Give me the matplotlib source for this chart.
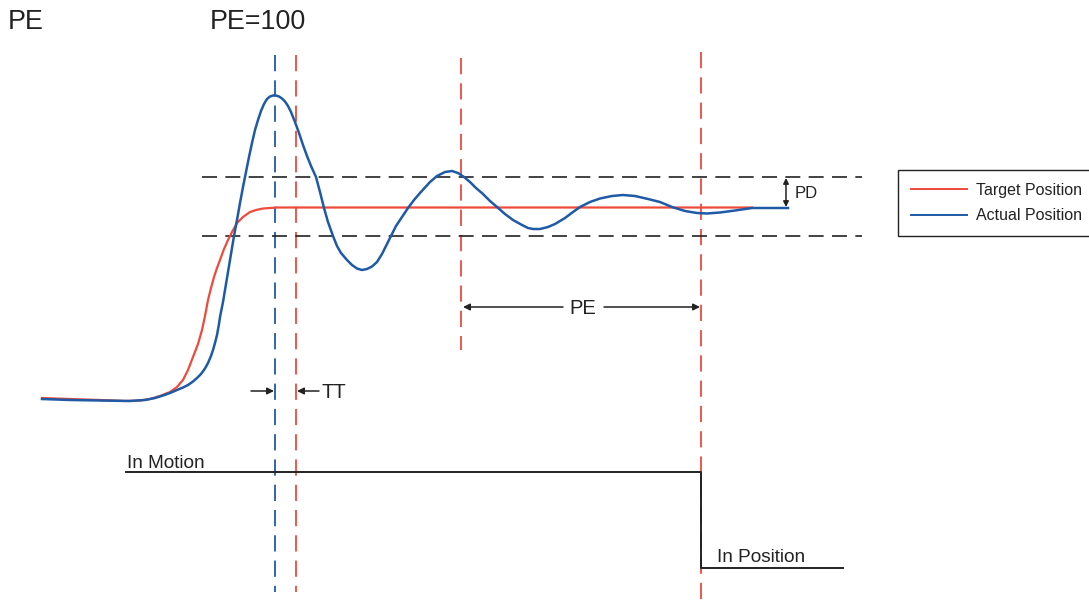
import matplotlib

matplotlib.use("Agg")
import matplotlib.pyplot as plt

plt.rcParams["font.family"] = ["Liberation Sans", "DejaVu Sans"]

# picture is a schematic, so all values are in pixel units of the 1089x605 canvas
target_x = [42, 70, 100, 125, 140, 150, 160, 170, 177, 183, 188, 193, 198, 202, 205, 208,
            211, 214, 217, 220, 224, 228, 232, 237, 243, 250, 256, 263, 270, 277, 752]
target_y = [398, 399, 400, 401, 400.5, 399, 396, 392, 387, 380, 370, 357, 344, 330, 316, 300,
            288, 277, 268, 260, 249, 240, 232, 223, 217, 212, 210, 208.5, 208, 207.5, 207.5]

actual_x = [42, 70, 100, 130, 145, 155, 163, 170, 177, 183, 188, 193, 197, 201, 205, 208,
            211, 213, 215, 217, 219, 220, 223, 225, 228, 231, 234, 237, 240, 243, 246, 249,
            252, 255, 258, 261, 264, 267, 270, 273, 276, 279, 282, 285, 288, 291, 295, 299,
            303, 307, 311, 316, 320, 324, 328, 333, 337, 341, 347, 352, 357, 362, 367, 372,
            377, 382, 386, 391, 396, 402, 408, 414, 420, 430, 437, 445, 452, 458, 464, 470,
            476, 483, 490, 497, 505, 513, 522, 528, 533, 540, 548, 555, 565, 573, 580, 590,
            600, 612, 623, 635, 648, 660, 672, 685, 697, 707, 720, 735, 752, 788]
actual_y = [399, 400, 400.5, 401, 400, 398, 395.5, 393, 390, 387.5, 385, 381.5, 378, 374, 368.5, 363,
            356, 350, 343, 335, 324, 317, 302, 290, 272, 254, 236, 220, 203, 187, 172, 157,
            143, 130, 120, 111, 104, 99, 96.5, 95.5, 95.5, 96.5, 98.5, 101.5, 106, 112, 122, 133,
            145, 156, 166, 177, 192, 208, 222, 236, 246, 253, 260, 265, 268.5, 270, 269, 266.5,
            262, 254, 246, 236, 226, 217, 208, 200, 193, 182, 176, 172, 171, 173, 177, 182,
            188, 194, 201, 207, 214, 220, 225, 228, 229, 229, 227, 224, 218, 212, 207, 202,
            198.5, 196, 195, 196, 199, 202, 207, 211, 213, 213.5, 212.5, 210.5, 208, 208]

band_y = [177, 236]
band_x = [202, 862]

# vertical markers: x, top, bottom, colour
marker_x = [275, 296, 461, 701]
marker_top = [55, 55, 58, 52]
marker_bottom = [592, 592, 350, 605]
marker_color = ["#1f5aa6", "#f04a3a", "#f04a3a", "#f04a3a"]

status_x = [126, 701, 701, 843]
status_y = [472, 472, 568, 568]

RED = "#f04a3a"
BLUE = "#1f5aa6"
INK = "#222222"

fig = plt.figure(figsize=(10.89, 6.05), dpi=100)
ax = fig.add_axes([0, 0, 1, 1])
ax.set_xlim(0, 1089)
ax.set_ylim(605, 0)
ax.axis("off")

for x, top, bottom, color in zip(marker_x, marker_top, marker_bottom, marker_color):
    ax.plot([x, x], [top, bottom], color=color, lw=1.3, linestyle=(0, (9, 5)))

ax.hlines(band_y, band_x[0], band_x[1], colors=INK, lw=1.2, linestyles=(0, (9, 5)))

(target_line,) = ax.plot(target_x, target_y, color=RED, lw=1.6, label="Target Position",
                         solid_joinstyle="round")
(actual_line,) = ax.plot(actual_x, actual_y, color=BLUE, lw=1.8, label="Actual Position",
                         solid_joinstyle="round")

ax.plot(status_x, status_y, color=INK, lw=1.4)

# annotations
ax.text(8, 29, "PE", fontsize=19.4, color=INK, va="baseline")
ax.text(210, 29, "PE=100", fontsize=19.4, color=INK, va="baseline")
ax.text(127, 468, "In Motion", fontsize=13.7, color=INK, va="baseline")
ax.text(717, 562, "In Position", fontsize=13.7, color=INK, va="baseline")

arrow = dict(arrowstyle="-|>", color=INK, lw=1.1, mutation_scale=10, shrinkA=0, shrinkB=0)
ax.annotate("", xy=(274, 391), xytext=(251, 391), arrowprops=arrow)
ax.annotate("", xy=(297, 391), xytext=(319, 391), arrowprops=arrow)
ax.text(322, 392, "TT", fontsize=14.5, color=INK, va="center")

ax.annotate("", xy=(463, 307), xytext=(563, 307), arrowprops=arrow)
ax.annotate("", xy=(700, 307), xytext=(604, 307), arrowprops=arrow)
ax.text(583, 308, "PE", fontsize=14.5, color=INK, va="center", ha="center")

ax.annotate("", xy=(786, 178), xytext=(786, 207),
            arrowprops=dict(arrowstyle="<|-|>", color=INK, lw=1.1, mutation_scale=8,
                            shrinkA=0, shrinkB=0))
ax.text(795, 193, "PD", fontsize=12, color=INK, va="center")

leg = ax.legend(handles=[target_line, actual_line], loc="upper left",
                bbox_to_anchor=(898, 170), bbox_transform=ax.transData,
                borderaxespad=0, fontsize=11.5, frameon=True, fancybox=False,
                edgecolor=INK, framealpha=1, handlelength=3.5, handletextpad=0.6,
                labelspacing=0.65, borderpad=0.8)
leg.get_frame().set_linewidth(1.0)
for line in leg.get_lines():
    line.set_linewidth(1.4)
for text in leg.get_texts():
    text.set_color(INK)

fig.savefig("out.png", dpi=100)
